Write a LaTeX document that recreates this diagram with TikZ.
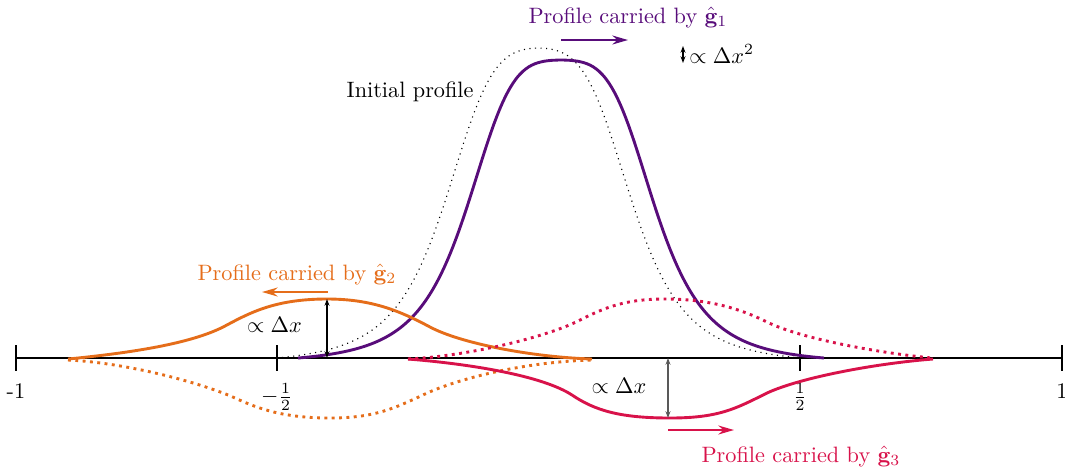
\documentclass[tikz,border=0pt]{standalone}
\usetikzlibrary{arrows.meta}
\definecolor{gpurple}{RGB}{88,12,122}
\definecolor{gorange}{RGB}{229,109,26}
\definecolor{gred}{RGB}{216,18,74}
\begin{document}
\begin{tikzpicture}[x=0.0158cm,y=-0.0158cm,
  declare function={
    Fi(\u)=1/(1+pow(\u/219.8,2)+pow(\u/100.1,4));
    Gi(\u)=(Fi(\u)-0.02026)/(1-0.02026);
    Fp(\u)=1/(1+pow(\u/301.5,2)+pow(\u/98.2,4));
    Gp(\u)=(Fp(\u)-0.0188)/(1-0.0188);
  },
  axisline/.style={line width=0.6pt},
  tickmark/.style={line width=0.8pt},
  ticklabel/.style={anchor=north},
  curve/.style={line width=1.3pt},
  initprof/.style={black,dotted,line width=0.5pt},
  motion/.style={line width=1.1pt,-{Stealth[length=7pt,width=4pt]}},
  dimarrow/.style={line width=0.5pt,{Stealth[length=3pt,width=2.2pt]}-{Stealth[length=3pt,width=2.2pt]}},
  lbl/.style={anchor=base,inner sep=0pt}]
\useasboundingbox (0,0) rectangle (1065,468);

% axis
\coordinate (ax0) at (16,358);
\coordinate (ax1) at (1062,358);
\draw[axisline] (ax0) -- (ax1);
\foreach \px/\nm/\lab in {16/m1/{-1},277/mh/{$-\frac{1}{2}$},800/ph/{$\frac{1}{2}$},1062/p1/{1}}{
  \draw[tickmark] (\px,345) -- (\px,371);
  \node[ticklabel] (t\nm) at (\px,376) {\lab};
}

% initial profile
\draw[initprof] plot[domain=-262:262,samples=181,smooth] ({538.5+\x},{358-310*Gi(\x)});

% profile carried by g1
\draw[curve,gpurple] plot[domain=-263:263,samples=181,smooth] ({561+\x},{358-298*Gp(\x)});

% profile carried by g2
\draw[curve,gorange] (68,359) .. controls (140,352) and (195,342) .. (225,326)
  .. controls (250,312.7) and (275,299) .. (327,299)
  .. controls (372,299) and (400,311) .. (430,327)
  .. controls (460,343) and (530,357) .. (592,359);
\draw[curve,gorange,dotted] (68,360) .. controls (130,363) and (205,384.25) .. (235,398)
  .. controls (260,409.5) and (285,418) .. (330,418)
  .. controls (375,418) and (395,408) .. (425,394)
  .. controls (455,380) and (520,362) .. (592,360);

% profile carried by g3
\draw[curve,gred] (408,359) .. controls (470,364) and (542,375.5) .. (572,395)
  .. controls (595,410.5) and (620,418) .. (670,418)
  .. controls (718,418) and (735,409) .. (765,394)
  .. controls (795,379) and (870,364) .. (933,359);
\draw[curve,gred,dotted] (408,359) .. controls (470,356) and (550,336) .. (580,320)
  .. controls (605,307.5) and (625,299) .. (665,299)
  .. controls (705,299) and (737,307) .. (767,322)
  .. controls (797,337) and (870,352) .. (932,358);

% labels and arrows
\node[lbl,anchor=base east] (init) at (474,97) {Initial profile};

\node[lbl,text=gpurple] (txt1) at (628,23) {Profile carried by $\hat{\mathbf{g}}_1$};
\coordinate (a1s) at (561,40);
\coordinate (a1e) at (628,40);
\draw[motion,gpurple] (a1s) -- (a1e);

\coordinate (d1t) at (683,46);
\coordinate (d1b) at (683,63);
\draw[dimarrow] (d1t) -- (d1b);
\node[lbl,anchor=base west] (dx2) at (689,63) {$\propto \Delta x^2$};

\node[lbl,text=gorange] (txt2) at (297,280) {Profile carried by $\hat{\mathbf{g}}_2$};
\coordinate (a2s) at (328,292);
\coordinate (a2e) at (262,292);
\draw[motion,gorange] (a2s) -- (a2e);
\coordinate (d2t) at (327,299);
\coordinate (d2b) at (327,358);
\draw[dimarrow] (d2t) -- (d2b);
\node[lbl] (dx2o) at (274.5,332) {$\propto \Delta x$};

\node[lbl,text=gred] (txt3) at (801,462) {Profile carried by $\hat{\mathbf{g}}_3$};
\coordinate (a3s) at (668,430);
\coordinate (a3e) at (734,430);
\draw[motion,gred] (a3s) -- (a3e);
\coordinate (d3t) at (668,358);
\coordinate (d3b) at (668,418);
\draw[dimarrow,black!65] (d3t) -- (d3b);
\node[lbl] (dx3) at (619,393) {$\propto \Delta x$};
\end{tikzpicture}
\end{document}
